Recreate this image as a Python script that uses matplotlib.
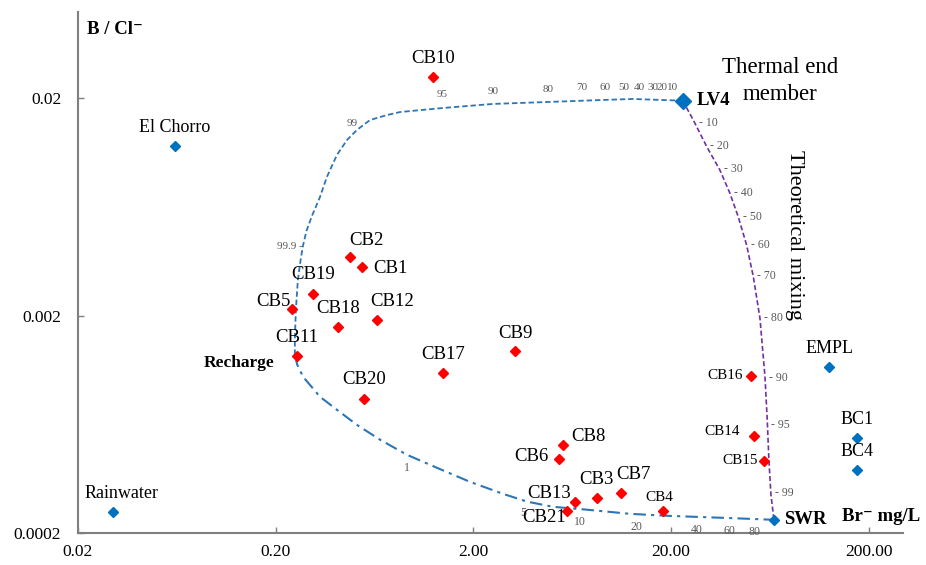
import matplotlib
matplotlib.use("Agg")
import matplotlib.pyplot as plt

plt.rcParams['font.family'] = ['Liberation Serif', 'DejaVu Serif']

# groundwater samples (Br- mg/L , B/Cl-)
red_names = ['CB10', 'CB2', 'CB1', 'CB19', 'CB5', 'CB18', 'CB12', 'CB11', 'CB20', 'CB17', 'CB9',
             'CB8', 'CB6', 'CB13', 'CB21', 'CB3', 'CB7', 'CB4', 'CB16', 'CB14', 'CB15']
red_br = [1.245, 0.475, 0.548, 0.308, 0.243, 0.415, 0.653, 0.257, 0.561, 1.40, 3.25,
          5.66, 5.40, 6.53, 5.93, 8.41, 11.2, 18.1, 50.7, 52.5, 59.2]
red_bcl = [0.0250, 0.00372, 0.00336, 0.00252, 0.00214, 0.00177, 0.00191, 0.00131, 0.000829, 0.00109, 0.00137,
           0.000509, 0.000439, 0.000277, 0.000253, 0.000290, 0.000307, 0.000253, 0.00106, 0.000556, 0.000431]

# reference waters / end members
blue_names = ['Rainwater', 'El Chorro', 'LV4', 'SWR', 'EMPL', 'BC1', 'BC4']
blue_br = [0.0302, 0.0619, 22.9, 66.3, 125.9, 174.0, 174.0]
blue_bcl = [0.000249, 0.01207, 0.0195, 0.000230, 0.00116, 0.000548, 0.000391]

# theoretical mixing lines
curveA_br = [0.250, 0.250, 0.253, 0.259, 0.266, 0.274, 0.286, 0.305, 0.335, 0.363, 0.408, 0.459, 0.515,
             0.600, 0.731, 0.851, 1.403, 2.51, 4.71, 8.74, 12.8, 22.9]
curveA_bcl = [0.00132, 0.00155, 0.00213, 0.00292, 0.00350, 0.00414, 0.00490, 0.00575, 0.00703, 0.00869,
              0.01097, 0.01286, 0.01430, 0.01589, 0.01675, 0.01729, 0.01805, 0.01884, 0.01923, 0.01963,
              0.01986, 0.0195]
curveB_br = [22.9, 25.9, 30.3, 35.3, 39.7, 43.7, 48.2, 52.1, 56.3, 59.7, 61.3, 62.5, 64.0, 66.3]
curveB_bcl = [0.0195, 0.01590, 0.01198, 0.00936, 0.00731, 0.00571, 0.00423, 0.00303, 0.00195, 0.00105,
              0.000664, 0.000434, 0.000300, 0.000230]
curveC_br = [0.250, 0.257, 0.275, 0.335, 0.408, 0.515, 0.675, 0.923, 1.309, 1.92, 2.82, 3.73, 5.05,
             7.51, 12.4, 19.1, 41.1, 66.3]
curveC_bcl = [0.00132, 0.00119, 0.001047, 0.000847, 0.000738, 0.000629, 0.000537, 0.000458, 0.000399,
              0.000344, 0.000303, 0.000279, 0.000264, 0.000256, 0.000245, 0.000240, 0.000234, 0.000230]

# mixing percentage marks
mixA_pct = ['99.9', '99', '95', '90', '80', '70', '60', '50', '40', '30', '20', '10']
mixA_br = [0.275, 0.486, 1.39, 2.51, 4.8, 7.08, 9.26, 11.55, 13.8, 16.2, 18.0, 20.4]
mixA_bcl = [0.00414, 0.01328, 0.0181, 0.0188, 0.0192, 0.0195, 0.0196, 0.0196, 0.0196, 0.0196, 0.0196, 0.0196]
mixB_pct = ['10', '20', '30', '40', '50', '60', '70', '80', '90', '95', '99']
mixB_br = [26.4, 30.2, 35.3, 39.7, 44.3, 48.2, 52.1, 56.3, 59.7, 61.3, 64.0]
mixB_bcl = [0.01535, 0.01207, 0.00943, 0.00736, 0.00571, 0.00423, 0.00303, 0.00195, 0.001038, 0.000629, 0.000305]
mixC_pct = ['1', '5', '10', '20', '40', '60', '80']
mixC_br = [0.923, 3.56, 6.92, 13.4, 27.0, 39.7, 53.1]
mixC_bcl = [0.000458, 0.000283, 0.000258, 0.000244, 0.000237, 0.000234, 0.000232]

xticks = [0.02, 0.2, 2, 20, 200]
xlabels = ['0.02', '0.20', '2.00', '20.00', '200.00']
yticks = [0.0002, 0.002, 0.02]
ylabels = ['0.0002', '0.002', '0.02']

RED = '#FF0000'
BLUE = '#0070C0'
LINEBLUE = '#2E75B6'
PURPLE = '#7030A0'
GREY = '#595959'

fig = plt.figure(figsize=(9.26, 5.65), dpi=100)
ax = fig.add_axes([78 / 926, 32 / 565, 825 / 926, 521 / 565])
ax.set_xscale('log')
ax.set_yscale('log')
ax.set_xlim(0.02, 298)
ax.set_ylim(0.0002, 0.0499)

ax.plot(curveA_br, curveA_bcl, color=LINEBLUE, lw=1.3, ls=(0, (3, 1.6)), zorder=2)
ax.plot(curveB_br, curveB_bcl, color=PURPLE, lw=1.2, ls=(0, (3, 1.6)), zorder=2)
ax.plot(curveC_br, curveC_bcl, color=LINEBLUE, lw=1.5, ls=(0, (6, 2.5, 1.5, 2.5)), zorder=2)

ax.plot(red_br, red_bcl, ls='none', marker='D', ms=5.5, color=RED, zorder=3)
for n, x, y in zip(blue_names, blue_br, blue_bcl):
    ms = 8 if n == 'LV4' else 5.5
    ax.plot(x, y, ls='none', marker='D', ms=ms, color=BLUE, zorder=3)

# label offsets in pixels
red_off = {'CB10': (0, 19, 'center'), 'CB2': (16, 17, 'center'), 'CB1': (11, -2, 'left'),
           'CB19': (0, 19, 'center'), 'CB5': (-19, 8, 'center'), 'CB18': (0, 19, 'center'),
           'CB12': (15, 18, 'center'), 'CB11': (0, 18, 'center'), 'CB20': (0, 19, 'center'),
           'CB17': (0, 18, 'center'), 'CB9': (0, 18, 'center'), 'CB8': (9, 8, 'left'),
           'CB6': (-10, 2, 'right'), 'CB13': (-26, 9, 'center'), 'CB21': (-23, -7, 'center'),
           'CB3': (0, 18, 'center'), 'CB7': (12, 18, 'center'), 'CB4': (-3, 13, 'center'),
           'CB16': (-8, 0, 'right'), 'CB14': (-14, 5, 'right'), 'CB15': (-6, 0, 'right')}
small = ['CB4', 'CB16', 'CB14', 'CB15']
for n, x, y in zip(red_names, red_br, red_bcl):
    dx, dy, ha = red_off[n]
    ax.annotate(n, (x, y), xytext=(dx, dy), textcoords='offset pixels', ha=ha, va='center',
                fontsize=11 if n in small else 13.5, zorder=4)

blue_off = {'Rainwater': (8, 19, 'center'), 'El Chorro': (0, 18, 'center'), 'EMPL': (0, 19, 'center'),
            'BC1': (0, 18, 'center'), 'BC4': (0, 18, 'center'), 'LV4': (14, 0, 'left'), 'SWR': (10, 0, 'left')}
for n, x, y in zip(blue_names, blue_br, blue_bcl):
    dx, dy, ha = blue_off[n]
    bold = n in ('LV4', 'SWR')
    ax.annotate(n, (x, y), xytext=(dx, dy), textcoords='offset pixels', ha=ha, va='center',
                fontsize=13.5 if bold else 13, fontweight='bold' if bold else 'normal', zorder=4)

# percentage marks
for p, x, y in zip(mixA_pct, mixA_br, mixA_bcl):
    if p == '99.9':
        ax.annotate('99.9 -', (x, y), xytext=(0, 0), textcoords='offset pixels', ha='right', va='center',
                    fontsize=8, color=GREY)
    else:
        ax.annotate(p, (x, y), xytext=(0, 13), textcoords='offset pixels', ha='center', va='center',
                    fontsize=8, color=GREY)
for p, x, y in zip(mixB_pct, mixB_br, mixB_bcl):
    ax.annotate('- ' + p, (x, y), xytext=(4, 0), textcoords='offset pixels', ha='left', va='center',
                fontsize=8.5, color=GREY)
for p, x, y in zip(mixC_pct, mixC_br, mixC_bcl):
    ax.annotate(p, (x, y), xytext=(0, -13), textcoords='offset pixels', ha='center', va='center',
                fontsize=8.5, color=GREY)

ax.annotate('Thermal end', (blue_br[2], blue_bcl[2]), xytext=(97, 33), textcoords='offset pixels',
            ha='center', va='center', fontsize=16.5)
ax.annotate('member', (blue_br[2], blue_bcl[2]), xytext=(97, 6), textcoords='offset pixels',
            ha='center', va='center', fontsize=16.5)
ax.text(84.5, 0.0047, 'Theoretical mixing', rotation=270, ha='center', va='center', fontsize=16)
ax.text(0.198, 0.001217, 'Recharge', ha='right', va='center', fontsize=12.5, fontweight='bold')
ax.text(230, 0.000238, 'Br\u207b mg/L', ha='center', va='center', fontsize=13.5, fontweight='bold')
ax.text(0.011, 0.967, 'B / Cl\u207b', transform=ax.transAxes, ha='left', va='center',
        fontsize=13.5, fontweight='bold')

for s in ['top', 'right']:
    ax.spines[s].set_visible(False)
for s in ['left', 'bottom']:
    ax.spines[s].set_color('#7F7F7F')
    ax.spines[s].set_linewidth(1.5)

ax.set_xticks(xticks)
ax.set_xticklabels(xlabels)
ax.set_yticks(yticks)
ax.set_yticklabels(ylabels)
ax.minorticks_off()
ax.tick_params(axis='both', direction='in', length=4, width=1, color='#7F7F7F', labelsize=12.5)
ax.tick_params(axis='x', pad=8)
ax.tick_params(axis='y', pad=12)

fig.savefig('out.png', dpi=100)
